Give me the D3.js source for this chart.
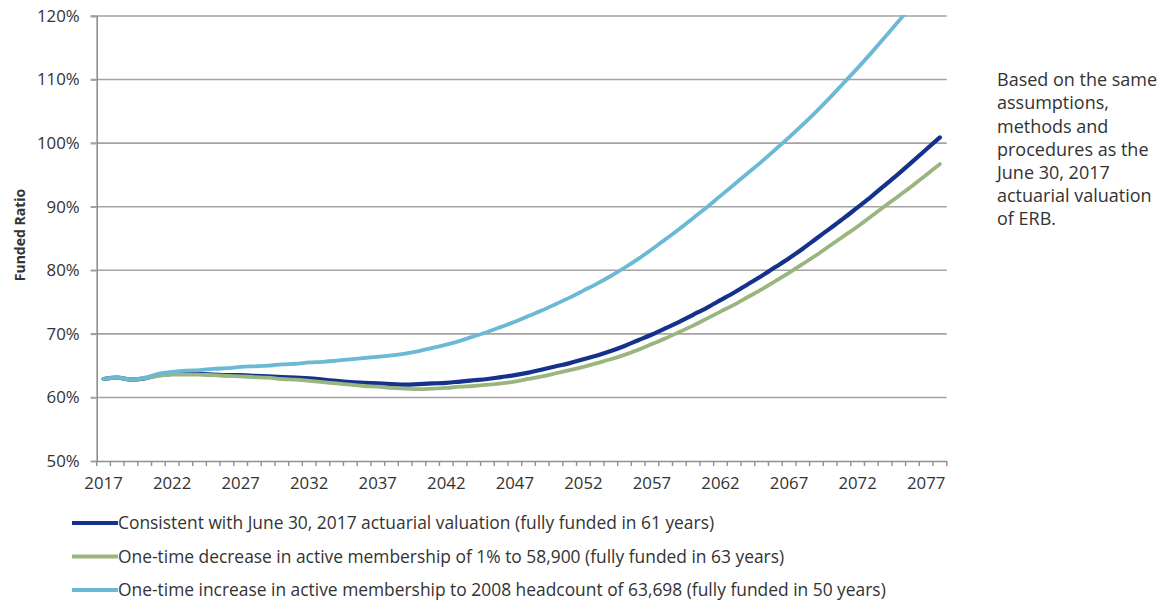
<!DOCTYPE html>
<html>
<head>
<meta charset="utf-8">
<script src="https://cdn.jsdelivr.net/npm/d3@7/dist/d3.min.js"></script>
<style>
  html, body { margin: 0; padding: 0; background: #fff; }
  svg { display: block; }
  text { font-family: "Open Sans", Lato, sans-serif; fill: #333; }
</style>
</head>
<body>
<svg id="chart" width="1162" height="606"></svg>
<script>
const years = d3.range(2017, 2079);
const yTicks = [0.5, 0.6, 0.7, 0.8, 0.9, 1.0, 1.1, 1.2];
const xLabelYears = [2017, 2022, 2027, 2032, 2037, 2042, 2047, 2052, 2057, 2062, 2067, 2072, 2077];

const consistent = [62.9,63.1,62.8,63.0,63.5,63.7,63.8,63.7,63.6,63.5,63.5,63.4,63.3,63.2,63.1,63.0,62.8,62.6,62.4,62.3,62.2,62.1,62.0,62.1,62.2,62.3,62.5,62.7,62.9,63.2,63.5,63.9,64.4,64.9,65.4,66.0,66.6,67.3,68.1,69.0,69.9,70.9,71.9,73.0,74.1,75.3,76.5,77.8,79.1,80.5,81.9,83.4,85.0,86.6,88.2,89.9,91.6,93.4,95.2,97.1,99.0,100.9];
const decrease = [62.9,63.1,62.8,63.0,63.4,63.6,63.6,63.6,63.5,63.4,63.3,63.2,63.1,62.9,62.8,62.6,62.4,62.2,62.0,61.8,61.7,61.5,61.4,61.3,61.4,61.5,61.7,61.8,62.0,62.2,62.5,62.9,63.3,63.8,64.3,64.8,65.4,66.0,66.7,67.5,68.4,69.3,70.3,71.3,72.4,73.5,74.6,75.8,77.0,78.3,79.6,81.0,82.4,83.9,85.4,86.9,88.5,90.1,91.7,93.3,95.0,96.7];
const increase = [62.9,63.1,62.8,63.1,63.7,64.0,64.2,64.3,64.5,64.6,64.8,64.9,65.0,65.2,65.3,65.5,65.6,65.8,66.0,66.2,66.4,66.6,66.9,67.3,67.8,68.3,68.9,69.6,70.3,71.1,71.9,72.8,73.7,74.7,75.7,76.8,77.9,79.1,80.4,81.8,83.3,84.9,86.5,88.2,89.9,91.7,93.5,95.3,97.1,99.0,100.9,102.9,105.0,107.2,109.5,111.8,114.2,116.7,119.2,121.8];

const seriesNames = [
  "Consistent with June 30, 2017 actuarial valuation (fully funded in 61 years)",
  "One-time decrease in active membership of 1% to 58,900 (fully funded in 63 years)",
  "One-time increase in active membership to 2008 headcount of 63,698 (fully funded in 50 years)"
];
const seriesColors = ["#14318c", "#9ab57e", "#6bb9d5"];
const seriesData = [consistent, decrease, increase];
const noteLines = ["Based on the same", "assumptions,", "methods and", "procedures as the", "June 30, 2017", "actuarial valuation", "of ERB."];
const yTitle = "Funded Ratio";

const svg = d3.select("#chart");
const L = 96.7, R = 946.7, T = 16, B = 461;

const x = d3.scaleBand().domain(years).range([L, R]).paddingInner(0).paddingOuter(0);
const y = d3.scaleLinear().domain([0.5, 1.2]).range([B, T]);
const xc = yr => x(yr) + x.bandwidth() / 2;

// gridlines
svg.append("g").selectAll("line").data(yTicks.filter(v => v > 0.5)).join("line")
  .attr("x1", L - 6).attr("x2", R).attr("y1", d => y(d)).attr("y2", d => y(d))
  .attr("stroke", "#a3a3a3").attr("stroke-width", 1.6);

// y axis
const yAxis = svg.append("g").attr("transform", `translate(${L},0)`)
  .call(d3.axisLeft(y).tickValues(yTicks).tickFormat(d3.format(".0%")).tickSize(6).tickPadding(11));
yAxis.select(".domain").attr("stroke", "#8f8f8f").attr("stroke-width", 1.6);
yAxis.selectAll(".tick line").attr("stroke", "#a3a3a3").attr("stroke-width", 1.6);
yAxis.selectAll(".tick text").style("font-size", "16.8px").style("font-family", "'Open Sans', sans-serif").attr("fill", "#333");

// x axis
const xAxis = svg.append("g").attr("transform", `translate(0,${B})`)
  .call(d3.axisBottom(x).tickValues(xLabelYears).tickSize(0).tickPadding(16));
xAxis.select(".domain").attr("stroke", "#8f8f8f").attr("stroke-width", 1.6);
xAxis.selectAll(".tick text").style("font-size", "16.8px").style("font-family", "'Open Sans', sans-serif").attr("fill", "#333");
// category boundary tick marks
const bounds = years.map(yr => x(yr)).concat([R]);
svg.append("g").selectAll("line").data(bounds).join("line")
  .attr("x1", d => d).attr("x2", d => d).attr("y1", B).attr("y2", B + 5)
  .attr("stroke", "#8f8f8f").attr("stroke-width", 1.4);

// lines
svg.append("defs").append("clipPath").attr("id", "plotclip")
  .append("rect").attr("x", L).attr("y", T - 1).attr("width", R - L + 10).attr("height", B - T + 1);
const line = d3.line().x((d, i) => xc(years[i])).y(d => y(d / 100)).curve(d3.curveMonotoneX);
const widths = [4.2, 3.8, 3.8];
svg.append("g").attr("clip-path", "url(#plotclip)").selectAll("path").data(seriesData).join("path")
  .attr("d", d => line(d)).attr("fill", "none")
  .attr("stroke", (d, i) => seriesColors[i]).attr("stroke-width", (d, i) => widths[i])
  .attr("stroke-linecap", "round").attr("stroke-linejoin", "round");

// y title
svg.append("text").attr("transform", "translate(25,235) rotate(-90)")
  .attr("text-anchor", "middle").style("font-size", "14px").style("font-weight", "bold").attr("fill", "#111")
  .text(yTitle);

// legend
const lg = svg.append("g").selectAll("g").data(seriesNames).join("g")
  .attr("transform", (d, i) => `translate(72,${523 + i * 33.5})`);
lg.append("line").attr("x1", 0).attr("x2", 46).attr("y1", 0).attr("y2", 0)
  .attr("stroke", (d, i) => seriesColors[i]).attr("stroke-width", 4);
lg.append("text").attr("x", 46).attr("y", 0).attr("dy", "0.35em")
  .style("font-size", "17.4px").attr("fill", "#222").text(d => d);

// note
svg.append("g").selectAll("text").data(noteLines).join("text")
  .attr("x", 997).attr("y", (d, i) => 80 + i * 23.1).attr("dy", "0.35em")
  .style("font-size", "18px").attr("fill", "#222").text(d => d);
</script>
</body>
</html>
